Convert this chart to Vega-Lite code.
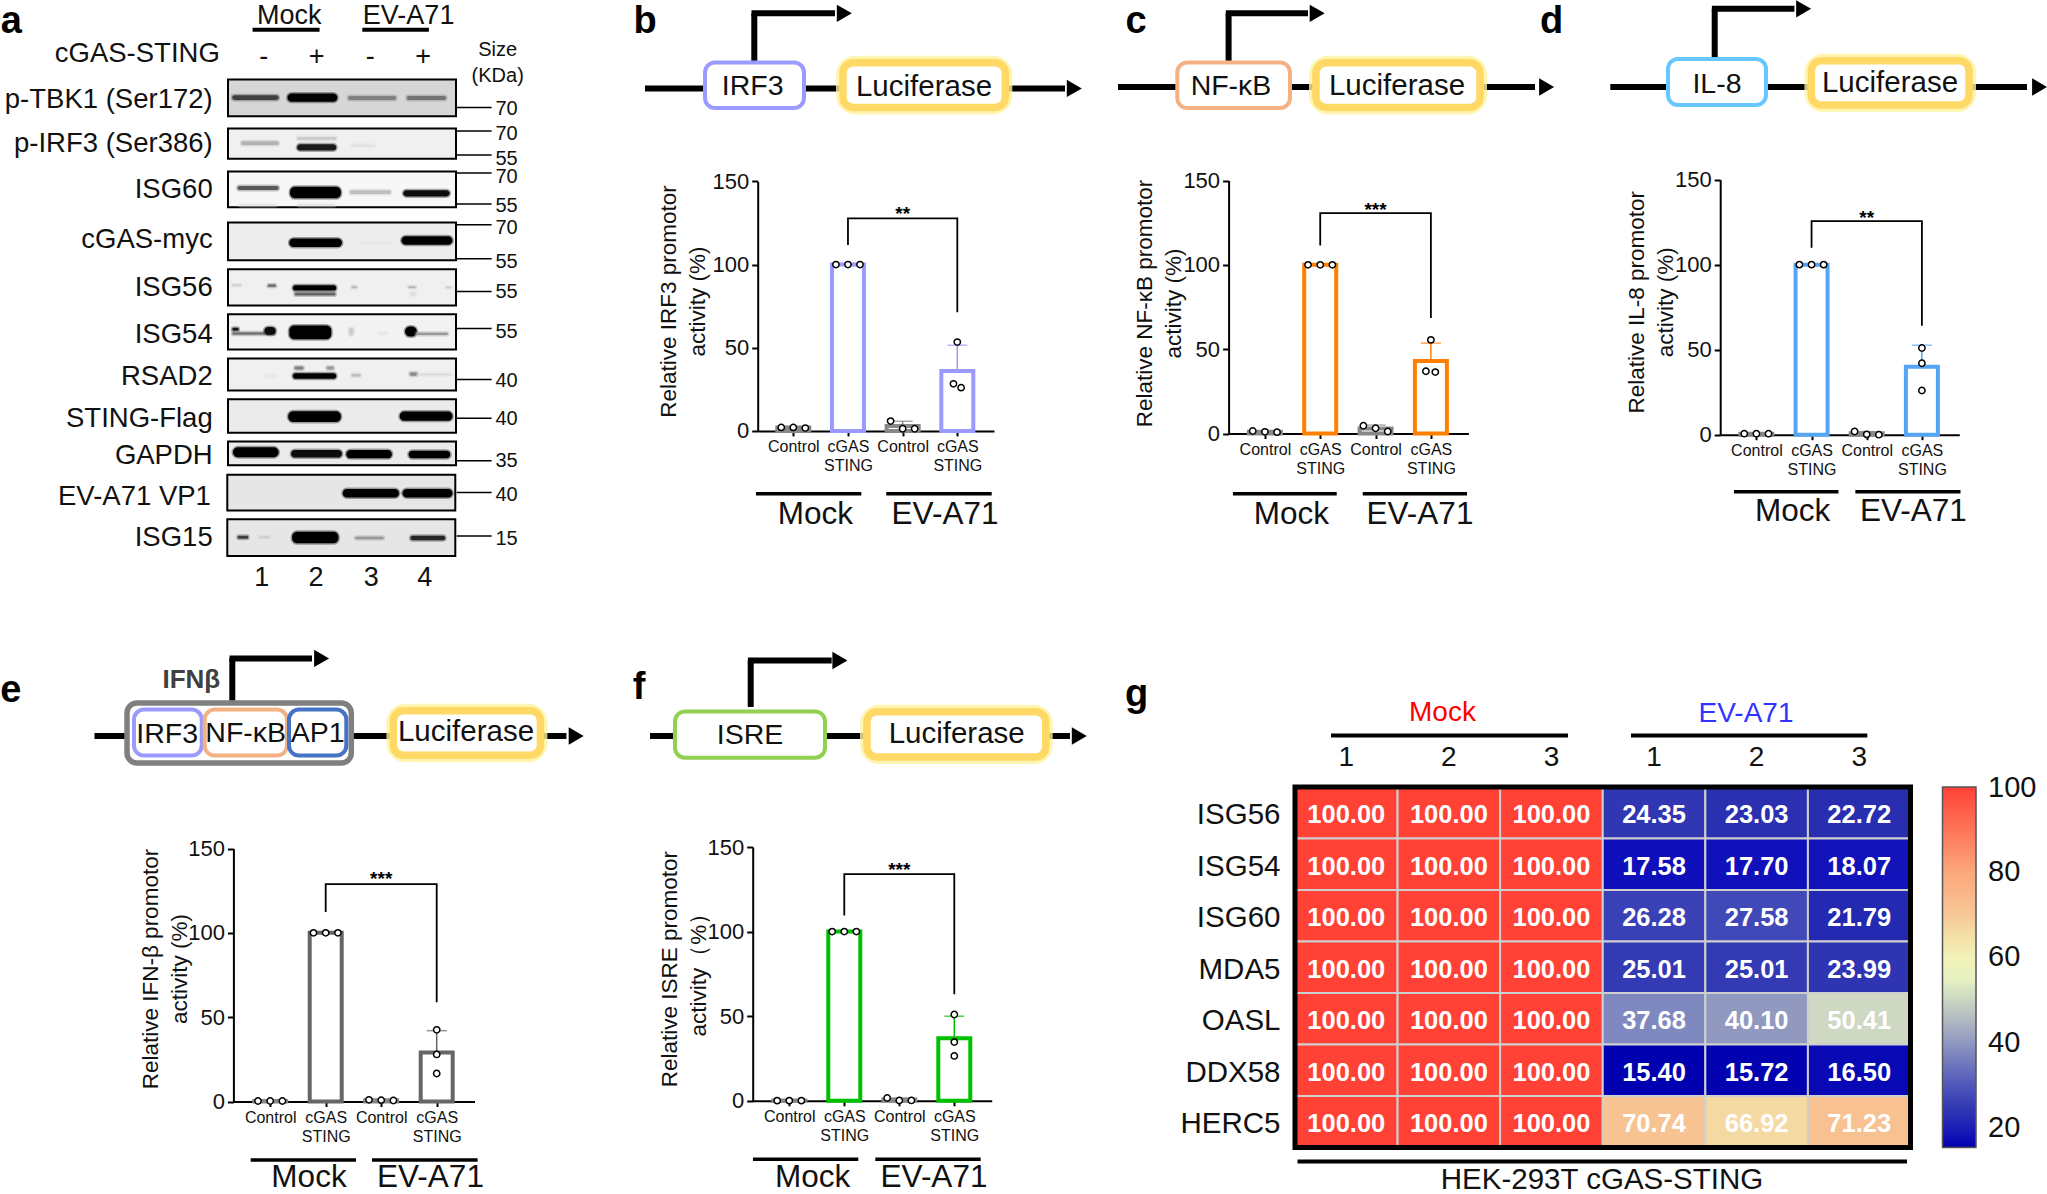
{"$schema":"https://vega.github.io/schema/vega-lite/v6.json","width":2047,"height":1194,"padding":0,"autosize":{"type":"none"},"background":"#ffffff",
"config":{"font":"Liberation Sans","view":{"stroke":null},"axis":{"grid":false,"domainColor":"#000","tickColor":"#000","domainWidth":2,"tickWidth":2,"labelColor":"#111","titleColor":"#111","titleFontWeight":"normal"}},
"datasets":{
"bars":[{"panel":"b","cat":"Control","x":1,"v":2},{"panel":"b","cat":"cGAS STING","x":2,"v":100},{"panel":"b","cat":"Control","x":3,"v":3},{"panel":"b","cat":"cGAS STING","x":4,"v":36},
{"panel":"c","cat":"Control","x":1,"v":1.1},{"panel":"c","cat":"cGAS STING","x":2,"v":100},{"panel":"c","cat":"Control","x":3,"v":3},{"panel":"c","cat":"cGAS STING","x":4,"v":43},
{"panel":"d","cat":"Control","x":1,"v":0.5},{"panel":"d","cat":"cGAS STING","x":2,"v":100},{"panel":"d","cat":"Control","x":3,"v":0.8},{"panel":"d","cat":"cGAS STING","x":4,"v":40},
{"panel":"e","cat":"Control","x":1,"v":0.3},{"panel":"e","cat":"cGAS STING","x":2,"v":100},{"panel":"e","cat":"Control","x":3,"v":0.8},{"panel":"e","cat":"cGAS STING","x":4,"v":29},
{"panel":"f","cat":"Control","x":1,"v":0.2},{"panel":"f","cat":"cGAS STING","x":2,"v":100},{"panel":"f","cat":"Control","x":3,"v":0.8},{"panel":"f","cat":"cGAS STING","x":4,"v":37}],
"err":[{"panel":"b","cat":"Control","x":1,"lo":2,"v":2.6},{"panel":"b","cat":"Control","x":3,"lo":3,"v":5.8},{"panel":"b","cat":"cGAS STING","x":4,"lo":36,"v":51.5},
{"panel":"c","cat":"Control","x":1,"lo":1.1,"v":1.6},{"panel":"c","cat":"Control","x":3,"lo":3,"v":5},{"panel":"c","cat":"cGAS STING","x":4,"lo":43,"v":53.6},
{"panel":"d","cat":"Control","x":1,"lo":0.5,"v":0.7},{"panel":"d","cat":"Control","x":3,"lo":0.8,"v":1.8},{"panel":"d","cat":"cGAS STING","x":4,"lo":40,"v":52.6},
{"panel":"e","cat":"Control","x":1,"lo":0.3,"v":0.4},{"panel":"e","cat":"Control","x":3,"lo":0.8,"v":1.2},{"panel":"e","cat":"cGAS STING","x":4,"lo":29,"v":42},
{"panel":"f","cat":"Control","x":1,"lo":0.2,"v":0.3},{"panel":"f","cat":"Control","x":3,"lo":0.8,"v":1.5},{"panel":"f","cat":"cGAS STING","x":4,"lo":37,"v":50}],
"pts":[{"panel":"b","x":0.78,"v":2.1},{"panel":"b","x":1,"v":2.1},{"panel":"b","x":1.22,"v":1.7},{"panel":"b","x":1.78,"v":100},{"panel":"b","x":2,"v":100},{"panel":"b","x":2.22,"v":100},{"panel":"b","x":2.78,"v":5.9},{"panel":"b","x":3,"v":1.3},{"panel":"b","x":3.22,"v":1.3},{"panel":"b","x":4,"v":53.4},{"panel":"b","x":3.93,"v":28.3},{"panel":"b","x":4.07,"v":26},
{"panel":"c","x":0.78,"v":1.5},{"panel":"c","x":1,"v":1},{"panel":"c","x":1.22,"v":0.8},{"panel":"c","x":1.78,"v":100},{"panel":"c","x":2,"v":100},{"panel":"c","x":2.22,"v":100},{"panel":"c","x":2.78,"v":4.6},{"panel":"c","x":3,"v":3.1},{"panel":"c","x":3.22,"v":1.2},{"panel":"c","x":4,"v":55.5},{"panel":"c","x":3.91,"v":36.9},{"panel":"c","x":4.08,"v":36.4},
{"panel":"d","x":0.78,"v":0.6},{"panel":"d","x":1,"v":0.6},{"panel":"d","x":1.22,"v":0.6},{"panel":"d","x":1.78,"v":100},{"panel":"d","x":2,"v":100},{"panel":"d","x":2.22,"v":100},{"panel":"d","x":2.78,"v":1.9},{"panel":"d","x":3,"v":0.2},{"panel":"d","x":3.22,"v":0},{"panel":"d","x":4,"v":51},{"panel":"d","x":4,"v":42},{"panel":"d","x":4,"v":26},
{"panel":"e","x":0.78,"v":0.3},{"panel":"e","x":1,"v":0.3},{"panel":"e","x":1.22,"v":0.3},{"panel":"e","x":1.78,"v":100},{"panel":"e","x":2,"v":100},{"panel":"e","x":2.22,"v":100},{"panel":"e","x":2.78,"v":1},{"panel":"e","x":3,"v":0.8},{"panel":"e","x":3.22,"v":0.6},{"panel":"e","x":4,"v":42.5},{"panel":"e","x":4,"v":27.9},{"panel":"e","x":4,"v":16.6},
{"panel":"f","x":0.78,"v":0.1},{"panel":"f","x":1,"v":0.1},{"panel":"f","x":1.22,"v":0.1},{"panel":"f","x":1.78,"v":100},{"panel":"f","x":2,"v":100},{"panel":"f","x":2.22,"v":100},{"panel":"f","x":2.78,"v":1.7},{"panel":"f","x":3,"v":0.2},{"panel":"f","x":3.22,"v":0.2},{"panel":"f","x":4,"v":51},{"panel":"f","x":4,"v":34.7},{"panel":"f","x":4,"v":26.5}],
"brk":[{"panel":"b","x":2,"v":111.8,"o":1},{"panel":"b","x":2,"v":127.8,"o":2},{"panel":"b","x":4,"v":127.8,"o":3},{"panel":"b","x":4,"v":71.3,"o":4},
{"panel":"c","x":2,"v":111.4,"o":1},{"panel":"c","x":2,"v":130.6,"o":2},{"panel":"c","x":4,"v":130.6,"o":3},{"panel":"c","x":4,"v":68.5,"o":4},
{"panel":"d","x":2,"v":110,"o":1},{"panel":"d","x":2,"v":125.6,"o":2},{"panel":"d","x":4,"v":125.6,"o":3},{"panel":"d","x":4,"v":64,"o":4},
{"panel":"e","x":2,"v":112.3,"o":1},{"panel":"e","x":2,"v":128.9,"o":2},{"panel":"e","x":4,"v":128.9,"o":3},{"panel":"e","x":4,"v":58.9,"o":4},
{"panel":"f","x":2,"v":109.5,"o":1},{"panel":"f","x":2,"v":134,"o":2},{"panel":"f","x":4,"v":134,"o":3},{"panel":"f","x":4,"v":63,"o":4}],
"sig":[{"panel":"b","x":3,"v":133,"t":"**"},{"panel":"c","x":3,"v":135,"t":"***"},{"panel":"d","x":3,"v":130,"t":"**"},{"panel":"e","x":3,"v":134,"t":"***"},{"panel":"f","x":3,"v":138.7,"t":"***"}],
"grp":[{"panel":"b","g":"Mock","x":0.318,"x2":2.244,"v":-37.8},{"panel":"b","g":"EV-A71","x":2.701,"x2":4.629,"v":-37.8},
{"panel":"c","g":"Mock","x":0.422,"x2":2.298,"v":-35.7},{"panel":"c","g":"EV-A71","x":2.768,"x2":4.653,"v":-35.7},
{"panel":"d","g":"Mock","x":0.594,"x2":2.488,"v":-33.5},{"panel":"d","g":"EV-A71","x":2.794,"x2":4.7,"v":-33.5},
{"panel":"e","g":"Mock","x":0.649,"x2":2.546,"v":-34.7},{"panel":"e","g":"EV-A71","x":2.834,"x2":4.737,"v":-34.7},
{"panel":"f","g":"Mock","x":0.34,"x2":2.255,"v":-34.6},{"panel":"f","g":"EV-A71","x":2.564,"x2":4.48,"v":-34.6}],
"grpT":[{"panel":"b","t":"Mock","x":1.402,"v":-50.6},{"panel":"b","t":"EV-A71","x":3.775,"v":-50.6},
{"panel":"c","t":"Mock","x":1.479,"v":-48.4},{"panel":"c","t":"EV-A71","x":3.803,"v":-48.4},
{"panel":"d","t":"Mock","x":1.656,"v":-45.5},{"panel":"d","t":"EV-A71","x":3.846,"v":-45.5},
{"panel":"e","t":"Mock","x":1.699,"v":-45.4},{"panel":"e","t":"EV-A71","x":3.888,"v":-45.4},
{"panel":"f","t":"Mock","x":1.425,"v":-45.6},{"panel":"f","t":"EV-A71","x":3.631,"v":-45.6}],
"boxes":[{"p":"p-TBK1","x":638,"x2":1278,"y":208,"y2":304,"d":0.16},{"p":"p-IRF3","x":638,"x2":1278,"y":336,"y2":415,"d":0.06},{"p":"ISG60","x":638,"x2":1278,"y":448,"y2":541,"d":0.03},{"p":"cGAS-myc","x":638,"x2":1278,"y":581,"y2":680,"d":0.07},{"p":"ISG56","x":638,"x2":1278,"y":703,"y2":798,"d":0.06},{"p":"ISG54","x":638,"x2":1278,"y":821,"y2":913,"d":0.05},{"p":"RSAD2","x":638,"x2":1278,"y":936,"y2":1020,"d":0.06},{"p":"STING-Flag","x":638,"x2":1278,"y":1043,"y2":1130,"d":0.08},{"p":"GAPDH","x":638,"x2":1278,"y":1153,"y2":1215,"d":0.08},{"p":"EV-A71 VP1","x":636,"x2":1276,"y":1240,"y2":1333,"d":0.1},{"p":"ISG15","x":636,"x2":1276,"y":1356,"y2":1452,"d":0.1}],
"bands":[{"p":"p-TBK1","x":650,"x2":780,"y":249,"y2":261,"d":0.75},{"p":"p-TBK1","x":805,"x2":945,"y":244,"y2":266,"d":1},{"p":"p-TBK1","x":975,"x2":1110,"y":251,"y2":261,"d":0.5},{"p":"p-TBK1","x":1140,"x2":1250,"y":251,"y2":261,"d":0.55},
{"p":"p-IRF3","x":675,"x2":780,"y":369,"y2":379,"d":0.3},{"p":"p-IRF3","x":832,"x2":942,"y":377,"y2":393,"d":0.9},{"p":"p-IRF3","x":832,"x2":942,"y":358,"y2":366,"d":0.2},{"p":"p-IRF3","x":985,"x2":1050,"y":378,"y2":383,"d":0.12},
{"p":"ISG60","x":665,"x2":780,"y":486,"y2":496,"d":0.65},{"p":"ISG60","x":670,"x2":775,"y":533,"y2":538,"d":0.1},{"p":"ISG60","x":812,"x2":955,"y":488,"y2":518,"d":1},{"p":"ISG60","x":835,"x2":940,"y":533,"y2":538,"d":0.1},{"p":"ISG60","x":980,"x2":1095,"y":497,"y2":507,"d":0.25},{"p":"ISG60","x":1130,"x2":1260,"y":497,"y2":513,"d":0.95},
{"p":"cGAS-myc","x":810,"x2":958,"y":623,"y2":645,"d":1},{"p":"cGAS-myc","x":1125,"x2":1268,"y":617,"y2":639,"d":1},{"p":"cGAS-myc","x":1010,"x2":1100,"y":632,"y2":636,"d":0.09},
{"p":"ISG56","x":650,"x2":675,"y":743,"y2":747,"d":0.2},{"p":"ISG56","x":750,"x2":772,"y":743,"y2":749,"d":0.6},{"p":"ISG56","x":820,"x2":942,"y":745,"y2":759,"d":1},{"p":"ISG56","x":825,"x2":940,"y":764,"y2":772,"d":0.6},{"p":"ISG56","x":985,"x2":1000,"y":747,"y2":753,"d":0.25},{"p":"ISG56","x":1145,"x2":1165,"y":748,"y2":752,"d":0.3},{"p":"ISG56","x":1150,"x2":1165,"y":763,"y2":773,"d":0.12},{"p":"ISG56","x":1250,"x2":1265,"y":749,"y2":753,"d":0.2},
{"p":"ISG54","x":650,"x2":668,"y":856,"y2":864,"d":0.9},{"p":"ISG54","x":650,"x2":770,"y":868,"y2":874,"d":0.55},{"p":"ISG54","x":740,"x2":772,"y":854,"y2":874,"d":0.95},{"p":"ISG54","x":810,"x2":928,"y":850,"y2":886,"d":1},{"p":"ISG54","x":978,"x2":990,"y":856,"y2":876,"d":0.2},{"p":"ISG54","x":1060,"x2":1085,"y":867,"y2":873,"d":0.1},{"p":"ISG54","x":1135,"x2":1168,"y":853,"y2":879,"d":1},{"p":"ISG54","x":1165,"x2":1255,"y":869,"y2":875,"d":0.4},
{"p":"RSAD2","x":745,"x2":775,"y":979,"y2":985,"d":0.1},{"p":"RSAD2","x":820,"x2":942,"y":975,"y2":989,"d":1},{"p":"RSAD2","x":825,"x2":850,"y":957,"y2":965,"d":0.5},{"p":"RSAD2","x":915,"x2":935,"y":957,"y2":965,"d":0.4},{"p":"RSAD2","x":985,"x2":1010,"y":977,"y2":983,"d":0.25},{"p":"RSAD2","x":1148,"x2":1170,"y":973,"y2":981,"d":0.45},{"p":"RSAD2","x":1170,"x2":1265,"y":976,"y2":980,"d":0.15},
{"p":"STING-Flag","x":807,"x2":955,"y":1074,"y2":1102,"d":1},{"p":"STING-Flag","x":1120,"x2":1268,"y":1075,"y2":1099,"d":1},
{"p":"GAPDH","x":652,"x2":780,"y":1168,"y2":1194,"d":1},{"p":"GAPDH","x":815,"x2":958,"y":1175,"y2":1195,"d":0.95},{"p":"GAPDH","x":970,"x2":1098,"y":1175,"y2":1197,"d":1},{"p":"GAPDH","x":1145,"x2":1262,"y":1177,"y2":1197,"d":1},
{"p":"EV-A71 VP1","x":960,"x2":1118,"y":1277,"y2":1299,"d":1},{"p":"EV-A71 VP1","x":1128,"x2":1268,"y":1277,"y2":1299,"d":1},
{"p":"ISG15","x":665,"x2":695,"y":1399,"y2":1407,"d":0.75},{"p":"ISG15","x":725,"x2":755,"y":1401,"y2":1405,"d":0.2},{"p":"ISG15","x":818,"x2":948,"y":1389,"y2":1419,"d":1},{"p":"ISG15","x":995,"x2":1075,"y":1402,"y2":1408,"d":0.4},{"p":"ISG15","x":1150,"x2":1248,"y":1399,"y2":1411,"d":0.85}],
"blotText":[{"k":"r","t":"p-TBK1 (Ser172)","x":595,"y":260},{"k":"r","t":"p-IRF3 (Ser386)","x":595,"y":375},{"k":"r","t":"ISG60","x":595,"y":497},{"k":"r","t":"cGAS-myc","x":595,"y":627},{"k":"r","t":"ISG56","x":595,"y":753},{"k":"r","t":"ISG54","x":595,"y":875},{"k":"r","t":"RSAD2","x":595,"y":985},{"k":"r","t":"STING-Flag","x":595,"y":1095},{"k":"r","t":"GAPDH","x":595,"y":1190},{"k":"r","t":"EV-A71 VP1","x":590,"y":1298},{"k":"r","t":"ISG15","x":595,"y":1405},{"k":"r","t":"cGAS-STING","x":615,"y":140},
{"k":"c","t":"Mock","x":810,"y":43},{"k":"c","t":"EV-A71","x":1145,"y":43},{"k":"c","t":"-","x":738,"y":148},{"k":"c","t":"+","x":887,"y":148},{"k":"c","t":"-","x":1037,"y":148},{"k":"c","t":"+","x":1186,"y":148},{"k":"c","t":"1","x":733,"y":1510},{"k":"c","t":"2","x":885,"y":1510},{"k":"c","t":"3","x":1040,"y":1510},{"k":"c","t":"4","x":1190,"y":1510},
{"k":"s","t":"Size","x":1395,"y":132},{"k":"s","t":"(KDa)","x":1395,"y":198},{"k":"s","t":"70","x":1420,"y":285},{"k":"s","t":"70","x":1420,"y":350},{"k":"s","t":"55","x":1420,"y":415},{"k":"s","t":"70","x":1420,"y":462},{"k":"s","t":"55","x":1420,"y":537},{"k":"s","t":"70","x":1420,"y":595},{"k":"s","t":"55","x":1420,"y":685},{"k":"s","t":"55","x":1420,"y":762},{"k":"s","t":"55","x":1420,"y":866},{"k":"s","t":"40","x":1420,"y":995},{"k":"s","t":"40","x":1420,"y":1093},{"k":"s","t":"35","x":1420,"y":1205},{"k":"s","t":"40","x":1420,"y":1292},{"k":"s","t":"15","x":1420,"y":1407},
{"k":"l","t":"a","x":30,"y":58}],
"sizeTicks":[{"x":1280,"x2":1378,"y":281},{"x":1280,"x2":1378,"y":342},{"x":1280,"x2":1378,"y":405},{"x":1280,"x2":1378,"y":452},{"x":1280,"x2":1378,"y":533},{"x":1280,"x2":1378,"y":587},{"x":1280,"x2":1378,"y":676},{"x":1280,"x2":1378,"y":761},{"x":1280,"x2":1378,"y":858},{"x":1280,"x2":1378,"y":991},{"x":1280,"x2":1378,"y":1092},{"x":1280,"x2":1378,"y":1203},{"x":1280,"x2":1378,"y":1286},{"x":1280,"x2":1378,"y":1400}],
"blotBars":[{"x":707,"x2":895,"y":78},{"x":1015,"x2":1202,"y":78}],
"wires":[{"x":645,"y":88.4,"x2":1065,"y2":88.4},{"x":754.3,"y":62.5,"x2":754.3,"y2":13.3},{"x":751.5,"y":13.3,"x2":835,"y2":13.3},
{"x":1118,"y":87,"x2":1535,"y2":87},{"x":1228.6,"y":62.5,"x2":1228.6,"y2":13.3},{"x":1225.8,"y":13.3,"x2":1308,"y2":13.3},
{"x":1610.3,"y":87,"x2":2027,"y2":87},{"x":1714.7,"y":59,"x2":1714.7,"y2":8.8},{"x":1711.9,"y":8.8,"x2":1794.4,"y2":8.8},
{"x":94.5,"y":736,"x2":566.4,"y2":736},{"x":232.3,"y":700.8,"x2":232.3,"y2":658.4},{"x":229.5,"y":658.4,"x2":312,"y2":658.4},
{"x":650,"y":736,"x2":1070,"y2":736},{"x":750.7,"y":707,"x2":750.7,"y2":660.5},{"x":747.9,"y":660.5,"x2":831.7,"y2":660.5}],
"heads":[{"x":1074.3,"y":88.4},{"x":844.3,"y":13.3},{"x":1546.6,"y":87},{"x":1317.2,"y":13.3},{"x":2039.6,"y":87},{"x":1803.6,"y":8.8},{"x":576.2,"y":736},{"x":321.6,"y":658.4},{"x":1079.3,"y":736},{"x":839.9,"y":660.5}],
"promoters":[{"kind":"IRF3","x":705,"x2":804,"y":62.5,"y2":108},{"kind":"NF-κB","x":1177.3,"x2":1290,"y":62.5,"y2":108},{"kind":"IL-8","x":1668,"x2":1766,"y":59,"y2":105},{"kind":"IFNβ","x":127,"x2":351.3,"y":703,"y2":763},{"kind":"IRF3","x":134,"x2":201.7,"y":709.6,"y2":755.5},{"kind":"NF-κB","x":204.7,"x2":287,"y":709.6,"y2":755.5},{"kind":"AP1","x":289,"x2":346.3,"y":709.6,"y2":755.5},{"kind":"ISRE","x":675,"x2":825,"y":711.4,"y2":757.7}],
"luc":[{"x":843,"x2":1005.3,"y":62.8,"y2":107.4},{"x":1316,"x2":1480,"y":62.8,"y2":107.4},{"x":1811.4,"x2":1969,"y":60.7,"y2":105},{"x":393.4,"x2":540.4,"y":710.7,"y2":755.2},{"x":867,"x2":1045.7,"y":711.7,"y2":757}],
"schemText":[{"t":"IRF3","x":752.7,"y":86},{"t":"NF-κB","x":1231,"y":86},{"t":"IL-8","x":1717,"y":83.5},{"t":"ISRE","x":750,"y":734.7},{"t":"IRF3","x":167.2,"y":733.6},{"t":"NF-κB","x":245.7,"y":732.6},{"t":"AP1","x":317.6,"y":732.6}],
"lucText":[{"t":"Luciferase","x":924,"y":86.7},{"t":"Luciferase","x":1397,"y":86},{"t":"Luciferase","x":1890,"y":83},{"t":"Luciferase","x":466,"y":732},{"t":"Luciferase","x":956.7,"y":734},{"t":"HEK-293T cGAS-STING","x":1602,"y":1179.5}],
"letters":[{"t":"b","x":645,"y":22},{"t":"c","x":1136,"y":22},{"t":"d","x":1551.7,"y":22},{"t":"e","x":10.7,"y":691},{"t":"f","x":639,"y":688},{"t":"g","x":1136.6,"y":695}],
"heatBars":[{"x":1331,"x2":1568,"y":735.5},{"x":1631,"x2":1867.3,"y":735.5},{"x":1297.5,"x2":1907,"y":1161.6}],
"heatTitles":[{"t":"Mock","x":1442.5,"y":712.8},{"t":"EV-A71","x":1746,"y":713.5}],
"frame":[{"x":1295,"x2":1910.5,"y":787,"y2":1147.6}],
"barTop":[{"t":"100","x":1988,"y":788}],
"barTicks":[{"x":1942.5,"x2":1946.5,"y":872.7},{"x":1972,"x2":1976,"y":872.7},{"x":1942.5,"x2":1946.5,"y":958},{"x":1972,"x2":1976,"y":958},{"x":1942.5,"x2":1946.5,"y":1043},{"x":1972,"x2":1976,"y":1043},{"x":1942.5,"x2":1946.5,"y":1127.9},{"x":1972,"x2":1976,"y":1127.9}],
"heat":[{"g":"ISG56","c":"M1","v":100},{"g":"ISG56","c":"M2","v":100},{"g":"ISG56","c":"M3","v":100},{"g":"ISG56","c":"E1","v":24.35},{"g":"ISG56","c":"E2","v":23.03},{"g":"ISG56","c":"E3","v":22.72},
{"g":"ISG54","c":"M1","v":100},{"g":"ISG54","c":"M2","v":100},{"g":"ISG54","c":"M3","v":100},{"g":"ISG54","c":"E1","v":17.58},{"g":"ISG54","c":"E2","v":17.7},{"g":"ISG54","c":"E3","v":18.07},
{"g":"ISG60","c":"M1","v":100},{"g":"ISG60","c":"M2","v":100},{"g":"ISG60","c":"M3","v":100},{"g":"ISG60","c":"E1","v":26.28},{"g":"ISG60","c":"E2","v":27.58},{"g":"ISG60","c":"E3","v":21.79},
{"g":"MDA5","c":"M1","v":100},{"g":"MDA5","c":"M2","v":100},{"g":"MDA5","c":"M3","v":100},{"g":"MDA5","c":"E1","v":25.01},{"g":"MDA5","c":"E2","v":25.01},{"g":"MDA5","c":"E3","v":23.99},
{"g":"OASL","c":"M1","v":100},{"g":"OASL","c":"M2","v":100},{"g":"OASL","c":"M3","v":100},{"g":"OASL","c":"E1","v":37.68},{"g":"OASL","c":"E2","v":40.1},{"g":"OASL","c":"E3","v":50.41},
{"g":"DDX58","c":"M1","v":100},{"g":"DDX58","c":"M2","v":100},{"g":"DDX58","c":"M3","v":100},{"g":"DDX58","c":"E1","v":15.4},{"g":"DDX58","c":"E2","v":15.72},{"g":"DDX58","c":"E3","v":16.5},
{"g":"HERC5","c":"M1","v":100},{"g":"HERC5","c":"M2","v":100},{"g":"HERC5","c":"M3","v":100},{"g":"HERC5","c":"E1","v":70.74},{"g":"HERC5","c":"E2","v":66.92},{"g":"HERC5","c":"E3","v":71.23}]
},
"resolve":{"scale":{"x":"independent","y":"independent","color":"independent","stroke":"independent"},"axis":{"x":"independent","y":"independent"},"legend":{"color":"independent","stroke":"independent"}},
"layer":[
{"encoding":{"x":{"field":"x","type":"quantitative","scale":{"domain":[638,1278],"range":[228,456],"nice":false,"zero":false},"axis":null},"y":{"field":"y","type":"quantitative","scale":{"domain":[208,1452],"range":[79.6,556],"nice":false,"zero":false},"axis":null}},
"layer":[
{"data":{"name":"boxes"},"mark":{"type":"rect","stroke":"#000","strokeWidth":2},"encoding":{"x2":{"field":"x2"},"y2":{"field":"y2"},"color":{"field":"d","type":"quantitative","scale":{"domain":[0,1],"range":["#ffffff","#000000"],"interpolate":"rgb"},"legend":null}}},
{"data":{"name":"bands"},"mark":{"type":"rect","cornerRadius":5,"strokeWidth":3,"strokeOpacity":0.35},"encoding":{"x2":{"field":"x2"},"y2":{"field":"y2"},"color":{"field":"d","type":"quantitative","legend":null},"stroke":{"field":"d","type":"quantitative","scale":{"domain":[0,1],"range":["#ffffff","#000000"],"interpolate":"rgb"},"legend":null}}},
{"data":{"name":"sizeTicks"},"mark":{"type":"rule","color":"#000","strokeWidth":1.5},"encoding":{"x2":{"field":"x2"}}},
{"data":{"name":"blotBars"},"mark":{"type":"rule","color":"#000","strokeWidth":4},"encoding":{"x2":{"field":"x2"}}},
{"data":{"name":"blotText"},"transform":[{"filter":"datum.k=='r'"}],"mark":{"type":"text","fontSize":27.5,"align":"right","baseline":"middle","color":"#111"},"encoding":{"text":{"field":"t"}}},
{"data":{"name":"blotText"},"transform":[{"filter":"datum.k=='c'"}],"mark":{"type":"text","fontSize":27,"align":"center","baseline":"middle","color":"#111"},"encoding":{"text":{"field":"t"}}},
{"data":{"name":"blotText"},"transform":[{"filter":"datum.k=='s'"}],"mark":{"type":"text","fontSize":20,"align":"center","baseline":"middle","color":"#111"},"encoding":{"text":{"field":"t"}}},
{"data":{"name":"blotText"},"transform":[{"filter":"datum.k=='l'"}],"mark":{"type":"text","fontSize":38,"fontWeight":"bold","align":"center","baseline":"middle","color":"#000"},"encoding":{"text":{"field":"t"}}}
]},
{"encoding":{"x":{"field":"x","type":"quantitative","scale":{"domain":[0.349,4.671],"range":[757.7,994],"nice":false,"zero":false,"padding":0},"axis":{"orient":"bottom","offset":-763.1,"values":[1,2,3,4],"labelExpr":"datum.value%2==1?'Control':['cGAS','STING']","labelFontSize":16,"labelLineHeight":19,"tickSize":5,"labelPadding":3,"title":null}},"y":{"field":"v","type":"quantitative","stack":null,"scale":{"domain":[0,150],"range":[430.9,181.4],"nice":false},"axis":{"orient":"left","offset":-757.7,"values":[0,50,100,150],"labelFontSize":22,"labelPadding":3,"tickSize":6,"title":["Relative IRF3 promotor","activity (%)"],"titleFontSize":22.5,"titleLineHeight":29,"titleX":-77,"titleY":301,"titleBaseline":"bottom"}}},
"layer":[
{"data":{"name":"bars"},"transform":[{"filter":"datum.panel=='b'"}],"mark":{"type":"bar","orient":"vertical","width":32,"fill":"#fff","strokeWidth":4},"encoding":{"stroke":{"condition":{"test":"datum.cat=='Control'","value":"#888888"},"value":"#9999ff"}}},
{"data":{"name":"err"},"transform":[{"filter":"datum.panel=='b'"}],"mark":{"type":"rule","strokeWidth":1.5},"encoding":{"y2":{"field":"lo"},"color":{"condition":{"test":"datum.cat=='Control'","value":"#888888"},"value":"#9999ff"}}},
{"data":{"name":"err"},"transform":[{"filter":"datum.panel=='b'"}],"mark":{"type":"tick","orient":"horizontal","size":20,"thickness":1.5},"encoding":{"color":{"condition":{"test":"datum.cat=='Control'","value":"#888888"},"value":"#9999ff"}}},
{"data":{"name":"pts"},"transform":[{"filter":"datum.panel=='b'"}],"mark":{"type":"point","filled":true,"fill":"#fff","stroke":"#000","strokeWidth":1.5,"size":40,"opacity":1}},
{"data":{"name":"brk"},"transform":[{"filter":"datum.panel=='b'"}],"mark":{"type":"line","color":"#000","strokeWidth":1.8},"encoding":{"order":{"field":"o"}}},
{"data":{"name":"sig"},"transform":[{"filter":"datum.panel=='b'"}],"mark":{"type":"text","fontSize":19,"fontWeight":"bold","baseline":"middle","dy":4,"color":"#000"},"encoding":{"text":{"field":"t"}}},
{"data":{"name":"grp"},"transform":[{"filter":"datum.panel=='b'"}],"mark":{"type":"rule","color":"#000","strokeWidth":3.5},"encoding":{"x2":{"field":"x2"}}},
{"data":{"name":"grpT"},"transform":[{"filter":"datum.panel=='b'"}],"mark":{"type":"text","fontSize":31.5,"baseline":"middle","color":"#111"},"encoding":{"text":{"field":"t"}}}
]},
{"encoding":{"x":{"field":"x","type":"quantitative","scale":{"domain":[0.344,4.678],"range":[1228.6,1468.4],"nice":false,"zero":false,"padding":0},"axis":{"orient":"bottom","offset":-760.5,"values":[1,2,3,4],"labelExpr":"datum.value%2==1?'Control':['cGAS','STING']","labelFontSize":16,"labelLineHeight":19,"tickSize":5,"labelPadding":3,"title":null}},"y":{"field":"v","type":"quantitative","stack":null,"scale":{"domain":[0,150],"range":[433.5,180.5],"nice":false},"axis":{"orient":"left","offset":-1228.6,"values":[0,50,100,150],"labelFontSize":22,"labelPadding":3,"tickSize":6,"title":["Relative NF-κB promotor","activity (%)"],"titleFontSize":22.5,"titleLineHeight":29,"titleX":-72,"titleY":303,"titleBaseline":"bottom"}}},
"layer":[
{"data":{"name":"bars"},"transform":[{"filter":"datum.panel=='c'"}],"mark":{"type":"bar","orient":"vertical","width":32,"fill":"#fff","strokeWidth":4},"encoding":{"stroke":{"condition":{"test":"datum.cat=='Control'","value":"#888888"},"value":"#ff8000"}}},
{"data":{"name":"err"},"transform":[{"filter":"datum.panel=='c'"}],"mark":{"type":"rule","strokeWidth":1.5},"encoding":{"y2":{"field":"lo"},"color":{"condition":{"test":"datum.cat=='Control'","value":"#888888"},"value":"#ff8000"}}},
{"data":{"name":"err"},"transform":[{"filter":"datum.panel=='c'"}],"mark":{"type":"tick","orient":"horizontal","size":20,"thickness":1.5},"encoding":{"color":{"condition":{"test":"datum.cat=='Control'","value":"#888888"},"value":"#ff8000"}}},
{"data":{"name":"pts"},"transform":[{"filter":"datum.panel=='c'"}],"mark":{"type":"point","filled":true,"fill":"#fff","stroke":"#000","strokeWidth":1.5,"size":40,"opacity":1}},
{"data":{"name":"brk"},"transform":[{"filter":"datum.panel=='c'"}],"mark":{"type":"line","color":"#000","strokeWidth":1.8},"encoding":{"order":{"field":"o"}}},
{"data":{"name":"sig"},"transform":[{"filter":"datum.panel=='c'"}],"mark":{"type":"text","fontSize":19,"fontWeight":"bold","baseline":"middle","dy":4,"color":"#000"},"encoding":{"text":{"field":"t"}}},
{"data":{"name":"grp"},"transform":[{"filter":"datum.panel=='c'"}],"mark":{"type":"rule","color":"#000","strokeWidth":3.5},"encoding":{"x2":{"field":"x2"}}},
{"data":{"name":"grpT"},"transform":[{"filter":"datum.panel=='c'"}],"mark":{"type":"text","fontSize":31.5,"baseline":"middle","color":"#111"},"encoding":{"text":{"field":"t"}}}
]},
{"encoding":{"x":{"field":"x","type":"quantitative","scale":{"domain":[0.344,4.678],"range":[1720.2,1959.3],"nice":false,"zero":false,"padding":0},"axis":{"orient":"bottom","offset":-759.3,"values":[1,2,3,4],"labelExpr":"datum.value%2==1?'Control':['cGAS','STING']","labelFontSize":16,"labelLineHeight":19,"tickSize":5,"labelPadding":3,"title":null}},"y":{"field":"v","type":"quantitative","stack":null,"scale":{"domain":[0,150],"range":[434.7,179.6],"nice":false},"axis":{"orient":"left","offset":-1720.2,"values":[0,50,100,150],"labelFontSize":22,"labelPadding":3,"tickSize":6,"title":["Relative IL-8 promotor","activity (%)"],"titleFontSize":22.5,"titleLineHeight":29,"titleX":-72,"titleY":301.7,"titleBaseline":"bottom"}}},
"layer":[
{"data":{"name":"bars"},"transform":[{"filter":"datum.panel=='d'"}],"mark":{"type":"bar","orient":"vertical","width":32,"fill":"#fff","strokeWidth":4},"encoding":{"stroke":{"condition":{"test":"datum.cat=='Control'","value":"#888888"},"value":"#55a5f5"}}},
{"data":{"name":"err"},"transform":[{"filter":"datum.panel=='d'"}],"mark":{"type":"rule","strokeWidth":1.5},"encoding":{"y2":{"field":"lo"},"color":{"condition":{"test":"datum.cat=='Control'","value":"#888888"},"value":"#55a5f5"}}},
{"data":{"name":"err"},"transform":[{"filter":"datum.panel=='d'"}],"mark":{"type":"tick","orient":"horizontal","size":20,"thickness":1.5},"encoding":{"color":{"condition":{"test":"datum.cat=='Control'","value":"#888888"},"value":"#55a5f5"}}},
{"data":{"name":"pts"},"transform":[{"filter":"datum.panel=='d'"}],"mark":{"type":"point","filled":true,"fill":"#fff","stroke":"#000","strokeWidth":1.5,"size":40,"opacity":1}},
{"data":{"name":"brk"},"transform":[{"filter":"datum.panel=='d'"}],"mark":{"type":"line","color":"#000","strokeWidth":1.8},"encoding":{"order":{"field":"o"}}},
{"data":{"name":"sig"},"transform":[{"filter":"datum.panel=='d'"}],"mark":{"type":"text","fontSize":19,"fontWeight":"bold","baseline":"middle","dy":4,"color":"#000"},"encoding":{"text":{"field":"t"}}},
{"data":{"name":"grp"},"transform":[{"filter":"datum.panel=='d'"}],"mark":{"type":"rule","color":"#000","strokeWidth":3.5},"encoding":{"x2":{"field":"x2"}}},
{"data":{"name":"grpT"},"transform":[{"filter":"datum.panel=='d'"}],"mark":{"type":"text","fontSize":31.5,"baseline":"middle","color":"#111"},"encoding":{"text":{"field":"t"}}}
]},
{"encoding":{"x":{"field":"x","type":"quantitative","scale":{"domain":[0.337,4.681],"range":[233.4,474.5],"nice":false,"zero":false,"padding":0},"axis":{"orient":"bottom","offset":-92.5,"values":[1,2,3,4],"labelExpr":"datum.value%2==1?'Control':['cGAS','STING']","labelFontSize":16,"labelLineHeight":19,"tickSize":5,"labelPadding":3,"title":null}},"y":{"field":"v","type":"quantitative","stack":null,"scale":{"domain":[0,150],"range":[1101.5,848.5],"nice":false},"axis":{"orient":"left","offset":-233.4,"values":[0,50,100,150],"labelFontSize":22,"labelPadding":3,"tickSize":6,"title":["Relative IFN-β promotor","activity (%)"],"titleFontSize":22.5,"titleLineHeight":29,"titleX":-70.5,"titleY":968.6,"titleBaseline":"bottom"}}},
"layer":[
{"data":{"name":"bars"},"transform":[{"filter":"datum.panel=='e'"}],"mark":{"type":"bar","orient":"vertical","width":32,"fill":"#fff","strokeWidth":4},"encoding":{"stroke":{"condition":{"test":"datum.cat=='Control'","value":"#888888"},"value":"#666666"}}},
{"data":{"name":"err"},"transform":[{"filter":"datum.panel=='e'"}],"mark":{"type":"rule","strokeWidth":1.5},"encoding":{"y2":{"field":"lo"},"color":{"condition":{"test":"datum.cat=='Control'","value":"#888888"},"value":"#666666"}}},
{"data":{"name":"err"},"transform":[{"filter":"datum.panel=='e'"}],"mark":{"type":"tick","orient":"horizontal","size":20,"thickness":1.5},"encoding":{"color":{"condition":{"test":"datum.cat=='Control'","value":"#888888"},"value":"#666666"}}},
{"data":{"name":"pts"},"transform":[{"filter":"datum.panel=='e'"}],"mark":{"type":"point","filled":true,"fill":"#fff","stroke":"#000","strokeWidth":1.5,"size":40,"opacity":1}},
{"data":{"name":"brk"},"transform":[{"filter":"datum.panel=='e'"}],"mark":{"type":"line","color":"#000","strokeWidth":1.8},"encoding":{"order":{"field":"o"}}},
{"data":{"name":"sig"},"transform":[{"filter":"datum.panel=='e'"}],"mark":{"type":"text","fontSize":19,"fontWeight":"bold","baseline":"middle","dy":4,"color":"#000"},"encoding":{"text":{"field":"t"}}},
{"data":{"name":"grp"},"transform":[{"filter":"datum.panel=='e'"}],"mark":{"type":"rule","color":"#000","strokeWidth":3.5},"encoding":{"x2":{"field":"x2"}}},
{"data":{"name":"grpT"},"transform":[{"filter":"datum.panel=='e'"}],"mark":{"type":"text","fontSize":31.5,"baseline":"middle","color":"#111"},"encoding":{"text":{"field":"t"}}}
]},
{"encoding":{"x":{"field":"x","type":"quantitative","scale":{"domain":[0.335,4.68],"range":[752.7,991.7],"nice":false,"zero":false,"padding":0},"axis":{"orient":"bottom","offset":-93.2,"values":[1,2,3,4],"labelExpr":"datum.value%2==1?'Control':['cGAS','STING']","labelFontSize":16,"labelLineHeight":19,"tickSize":5,"labelPadding":3,"title":null}},"y":{"field":"v","type":"quantitative","stack":null,"scale":{"domain":[0,150],"range":[1100.8,847],"nice":false},"axis":{"orient":"left","offset":-752.7,"values":[0,50,100,150],"labelFontSize":22,"labelPadding":3,"tickSize":6,"title":["Relative ISRE promotor","activity（%）"],"titleFontSize":22.5,"titleLineHeight":29,"titleX":-71.5,"titleY":968.6,"titleBaseline":"bottom"}}},
"layer":[
{"data":{"name":"bars"},"transform":[{"filter":"datum.panel=='f'"}],"mark":{"type":"bar","orient":"vertical","width":32,"fill":"#fff","strokeWidth":4},"encoding":{"stroke":{"condition":{"test":"datum.cat=='Control'","value":"#888888"},"value":"#00c000"}}},
{"data":{"name":"err"},"transform":[{"filter":"datum.panel=='f'"}],"mark":{"type":"rule","strokeWidth":1.5},"encoding":{"y2":{"field":"lo"},"color":{"condition":{"test":"datum.cat=='Control'","value":"#888888"},"value":"#00c000"}}},
{"data":{"name":"err"},"transform":[{"filter":"datum.panel=='f'"}],"mark":{"type":"tick","orient":"horizontal","size":20,"thickness":1.5},"encoding":{"color":{"condition":{"test":"datum.cat=='Control'","value":"#888888"},"value":"#00c000"}}},
{"data":{"name":"pts"},"transform":[{"filter":"datum.panel=='f'"}],"mark":{"type":"point","filled":true,"fill":"#fff","stroke":"#000","strokeWidth":1.5,"size":40,"opacity":1}},
{"data":{"name":"brk"},"transform":[{"filter":"datum.panel=='f'"}],"mark":{"type":"line","color":"#000","strokeWidth":1.8},"encoding":{"order":{"field":"o"}}},
{"data":{"name":"sig"},"transform":[{"filter":"datum.panel=='f'"}],"mark":{"type":"text","fontSize":19,"fontWeight":"bold","baseline":"middle","dy":4,"color":"#000"},"encoding":{"text":{"field":"t"}}},
{"data":{"name":"grp"},"transform":[{"filter":"datum.panel=='f'"}],"mark":{"type":"rule","color":"#000","strokeWidth":3.5},"encoding":{"x2":{"field":"x2"}}},
{"data":{"name":"grpT"},"transform":[{"filter":"datum.panel=='f'"}],"mark":{"type":"text","fontSize":31.5,"baseline":"middle","color":"#111"},"encoding":{"text":{"field":"t"}}}
]},
{"data":{"name":"heat"},"encoding":{"x":{"field":"c","type":"nominal","scale":{"type":"band","domain":["M1","M2","M3","E1","E2","E3"],"range":[1295,1910.5],"paddingInner":0,"paddingOuter":0},"axis":{"orient":"top","offset":-787,"labelExpr":"substring(datum.label,1)","labelAngle":0,"labelFontSize":28,"labelPadding":16,"ticks":false,"domain":false,"title":null}},"y":{"field":"g","type":"nominal","scale":{"type":"band","domain":["ISG56","ISG54","ISG60","MDA5","OASL","DDX58","HERC5"],"range":[787,1147.6],"paddingInner":0,"paddingOuter":0},"axis":{"orient":"left","offset":-1295,"labelFontSize":29.5,"labelPadding":15,"labelOffset":2.5,"ticks":false,"domain":false,"title":null}}},
"layer":[
{"mark":{"type":"rect","stroke":"#cfcfcf","strokeWidth":2},"encoding":{"color":{"field":"v","type":"quantitative","scale":{"domain":[15.4,17.6,23,27.6,37.7,40,50.4,57,67,71,80,100],"range":["#0000b0","#1010ba","#2a30b0","#4148b8","#8088c0","#9098c0","#ced8c2","#f0fdc0","#f5d9a2","#f8c292","#fca87c","#ff4136"],"interpolate":"rgb","nice":false,"zero":false},"legend":{"orient":"none","legendX":1942.5,"legendY":787,"direction":"vertical","gradientLength":360.6,"gradientThickness":33.5,"values":[20,40,60,80],"title":null,"labelFontSize":29,"labelOffset":12,"labelBaseline":"middle","gradientStrokeColor":"#555","gradientStrokeWidth":1.5,"labelColor":"#111"}}}},
{"mark":{"type":"text","fontSize":25.5,"fontWeight":"bold","color":"#fff","baseline":"middle","dy":2.5},"encoding":{"text":{"field":"v","type":"quantitative","format":".2f"}}}
]},
{"encoding":{"x":{"field":"x","type":"quantitative","scale":{"domain":[0,2047],"range":[0,2047],"nice":false,"zero":false},"axis":null},"y":{"field":"y","type":"quantitative","scale":{"domain":[0,1194],"range":[0,1194],"nice":false,"zero":false},"axis":null}},
"layer":[
{"data":{"name":"wires"},"mark":{"type":"rule","color":"#000","strokeWidth":6},"encoding":{"x2":{"field":"x2"},"y2":{"field":"y2"}}},
{"data":{"name":"heads"},"mark":{"type":"point","shape":"triangle-right","filled":true,"color":"#000","size":300,"opacity":1}},
{"data":{"name":"luc"},"mark":{"type":"rect","fill":null,"stroke":"#fff2a0","strokeWidth":14,"strokeOpacity":0.8,"cornerRadius":12},"encoding":{"x2":{"field":"x2"},"y2":{"field":"y2"}}},
{"data":{"name":"luc"},"mark":{"type":"rect","fill":"#fff","stroke":"#ffd966","strokeWidth":7.5,"cornerRadius":10},"encoding":{"x2":{"field":"x2"},"y2":{"field":"y2"}}},
{"data":{"name":"promoters"},"mark":{"type":"rect","fill":"#fff","cornerRadius":10},"encoding":{"x2":{"field":"x2"},"y2":{"field":"y2"},"stroke":{"field":"kind","type":"nominal","scale":{"domain":["IRF3","NF-κB","IL-8","IFNβ","AP1","ISRE"],"range":["#9b9bff","#f4b183","#66c8ff","#7f7f7f","#4472c4","#92d050"]},"legend":null},"strokeWidth":{"condition":{"test":"datum.kind=='IFNβ'","value":5.5},"value":4}}},
{"data":{"name":"schemText"},"mark":{"type":"text","fontSize":28.5,"baseline":"middle","color":"#111"},"encoding":{"text":{"field":"t"}}},
{"data":{"name":"lucText"},"mark":{"type":"text","fontSize":29.5,"baseline":"middle","color":"#111"},"encoding":{"text":{"field":"t"}}},
{"data":{"name":"letters"},"mark":{"type":"text","fontSize":38,"fontWeight":"bold","baseline":"middle","color":"#000"},"encoding":{"text":{"field":"t"}}},
{"data":{"values":[{"t":"IFNβ","x":191.3,"y":679.6}]},"mark":{"type":"text","fontSize":26,"fontWeight":"bold","baseline":"middle","color":"#404040"},"encoding":{"text":{"field":"t"}}},
{"data":{"name":"heatTitles"},"mark":{"type":"text","fontSize":28,"baseline":"middle"},"encoding":{"text":{"field":"t"},"color":{"field":"t","type":"nominal","scale":{"domain":["Mock","EV-A71"],"range":["#ff0000","#3333ff"]},"legend":null}}},
{"data":{"name":"heatBars"},"mark":{"type":"rule","color":"#000","strokeWidth":4},"encoding":{"x2":{"field":"x2"}}},
{"data":{"name":"frame"},"mark":{"type":"rect","fill":null,"stroke":"#000","strokeWidth":5},"encoding":{"x2":{"field":"x2"},"y2":{"field":"y2"}}},
{"data":{"name":"barTicks"},"mark":{"type":"rule","color":"#000","strokeWidth":2},"encoding":{"x2":{"field":"x2"}}},
{"data":{"name":"barTop"},"mark":{"type":"text","fontSize":29,"align":"left","baseline":"middle","color":"#111"},"encoding":{"text":{"field":"t"}}}
]}
]}
